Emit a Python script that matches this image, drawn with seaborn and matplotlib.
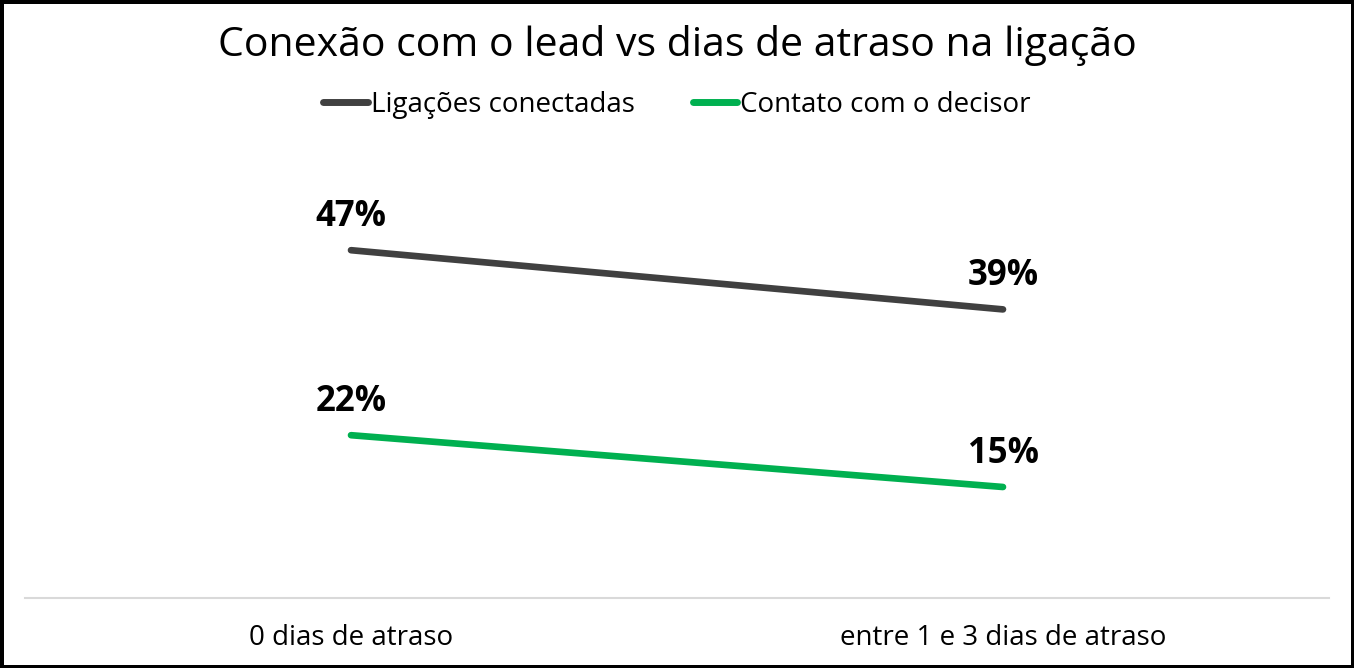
import matplotlib
matplotlib.use("Agg")
import matplotlib.pyplot as plt
import seaborn as sns
import pandas as pd
from matplotlib.lines import Line2D

categorias = ["0 dias de atraso", "entre 1 e 3 dias de atraso"]
ligacoes_conectadas = [0.47, 0.39]
contato_decisor = [0.22, 0.15]
series_nomes = ["Ligações conectadas", "Contato com o decisor"]
cores = ["#404040", "#00B050"]

sns.set_theme(style="white")
plt.rcParams['font.family'] = ['Open Sans', 'DejaVu Sans']

df = pd.DataFrame({
    "categoria": categorias * 2,
    "x": [0, 1, 0, 1],
    "valor": ligacoes_conectadas + contato_decisor,
    "serie": [series_nomes[0]] * 2 + [series_nomes[1]] * 2,
})

fig = plt.figure(figsize=(13.54, 6.68), dpi=100, facecolor="white",
                 edgecolor="black", linewidth=5)
ax = fig.add_axes([25 / 1354, 70 / 668, 1304 / 1354, 444 / 668])

sns.lineplot(data=df, x="x", y="valor", hue="serie", palette=cores,
             hue_order=series_nomes, linewidth=4.8, ax=ax, legend=False,
             solid_capstyle="round")

for nome, vals in zip(series_nomes, [ligacoes_conectadas, contato_decisor]):
    for i, v in enumerate(vals):
        ax.annotate(f"{round(v * 100)}%", (i, v), xytext=(0, 11),
                    textcoords="offset points", ha="center", va="bottom",
                    fontsize=25, fontweight="bold", color="black")

ax.set_xlim(-0.5, 1.5)
ax.set_ylim(0, 0.6)
ax.set_xticks([0, 1])
ax.set_xticklabels(categorias, fontsize=20, color="black")
ax.tick_params(axis="x", length=0, pad=19)
ax.set_yticks([])
ax.set_xlabel("")
ax.set_ylabel("")
for s in ["top", "right", "left"]:
    ax.spines[s].set_visible(False)
ax.spines["bottom"].set_color("#d9d9d9")
ax.spines["bottom"].set_linewidth(1.5)

handles = [Line2D([0], [0], color=c, lw=5, solid_capstyle="round") for c in cores]
leg = fig.legend(handles, series_nomes, loc="center", bbox_to_anchor=(0.5, 1 - 105 / 668),
                 ncol=2, frameon=False, fontsize=20, handlelength=1.6, handletextpad=0.1,
                 columnspacing=2.1)
for t in leg.get_texts():
    t.set_color("black")

fig.text(0.5, 1 - 45 / 668, "Conexão com o lead vs dias de atraso na ligação",
         ha="center", va="center", fontsize=29.5, color="black")

fig.savefig("out.png", dpi=100, facecolor="white", edgecolor="black")
